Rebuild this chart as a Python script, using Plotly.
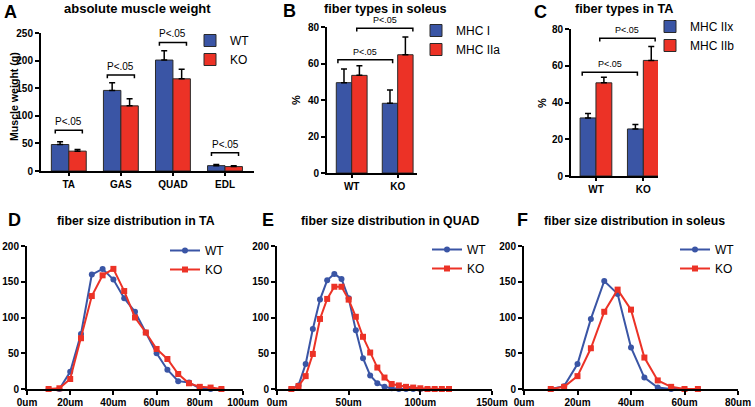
import plotly.graph_objects as go

W, H = 755, 407
BLUE = "#3a55a5"
RED = "#ec3226"
FONT = "Liberation Sans, Arial, sans-serif"

# A: absolute muscle weight (g)
muscles = ["TA", "GAS", "QUAD", "EDL"]
weight_wt = [48, 146, 201, 9.7]
weight_wt_err = [5, 14, 17, 2]
weight_ko = [36, 118, 167, 8]
weight_ko_err = [3, 13, 17.5, 1.7]
weight_bracket_y = [74, 174, 233, 33]

# B: fiber types in soleus (%)
genotypes = ["WT", "KO"]
sol_mhc1 = [49.5, 38.2]
sol_mhc1_err = [7.5, 7.3]
sol_mhc2a = [53.5, 64.8]
sol_mhc2a_err = [5.3, 9.7]
sol_brackets = [(-0.30, 0.89, 62), (0.11, 1.33, 79.3)]

# C: fiber types in TA (%)
ta_mhc2x = [31.6, 25.6]
ta_mhc2x_err = [2.4, 2.4]
ta_mhc2b = [50.7, 62.9]
ta_mhc2b_err = [3.1, 7.6]
ta_brackets = [(-0.29, 0.875, 56.4), (0.08, 1.25, 75)]

# D: fiber size distribution in TA
ta_size = [10, 15, 20, 25, 30, 35, 40, 45, 50, 55, 60, 65, 70, 75, 80, 85, 90]
ta_wt = [0, 0, 24, 77, 160, 168, 153, 127, 108, 79, 50, 27, 11, 9, 1, 0, 0]
ta_ko = [0, 1, 14, 71, 130, 159, 168, 137, 100, 79, 56, 42, 21, 8, 3, 2, 0]

# E: fiber size distribution in QUAD
quad_size = [10, 15, 20, 25, 30, 35, 40, 45, 50, 55, 60, 65, 70, 75, 80, 85,
             90, 95, 100, 105, 110, 115, 120]
quad_wt = [0, 5, 35, 84, 125, 152, 161, 154, 127, 82, 43, 19, 8, 3, 1, 0,
           0, 0, 0, 0, 0, 0, 0]
quad_ko = [0, 4, 18, 49, 98, 126, 143, 143, 125, 101, 73, 51, 30, 16, 7, 5,
           3, 2, 1, 0, 0, 0, 0]

# F: fiber size distribution in soleus
sol_size = [10, 15, 20, 25, 30, 35, 40, 45, 50, 55, 60, 65]
sol_wt = [0, 4, 35, 98, 151, 133, 58, 16, 2, 0, 0, 0]
sol_ko = [0, 3, 18, 57, 108, 139, 111, 44, 12, 3, 0, 0]


def px_x(p):
    return p / W


def px_y(p):
    return 1 - p / H


fig = go.Figure()


def add_bar(name, x, y, err, color, ax, legend):
    fig.add_trace(go.Bar(
        name=name, x=x, y=y,
        marker=dict(color=color, line=dict(color="#2a2a2a", width=1)),
        error_y=dict(type="data", array=err, arrayminus=[0] * len(err),
                     symmetric=False, color="black", thickness=1.5, width=3),
        xaxis="x" + ax, yaxis="y" + ax, legend=legend,
    ))


def add_line(name, x, y, color, symbol, ax, legend):
    fig.add_trace(go.Scatter(
        name=name, x=x, y=y, mode="lines+markers", cliponaxis=False,
        line=dict(color=color, width=2),
        marker=dict(color=color, symbol=symbol, size=6),
        xaxis="x" + ax, yaxis="y" + ax, legend=legend,
    ))


cat_a = list(range(len(muscles)))
cat_g = list(range(len(genotypes)))
add_bar("WT", cat_a, weight_wt, weight_wt_err, BLUE, "", "legend")
add_bar("KO", cat_a, weight_ko, weight_ko_err, RED, "", "legend")
add_bar("MHC I", cat_g, sol_mhc1, sol_mhc1_err, BLUE, "2", "legend2")
add_bar("MHC IIa", cat_g, sol_mhc2a, sol_mhc2a_err, RED, "2", "legend2")
add_bar("MHC IIx", cat_g, ta_mhc2x, ta_mhc2x_err, BLUE, "3", "legend3")
add_bar("MHC IIb", cat_g, ta_mhc2b, ta_mhc2b_err, RED, "3", "legend3")

add_line("WT", ta_size, ta_wt, BLUE, "circle", "4", "legend4")
add_line("KO", ta_size, ta_ko, RED, "square", "4", "legend4")
add_line("WT", quad_size, quad_wt, BLUE, "circle", "5", "legend5")
add_line("KO", quad_size, quad_ko, RED, "square", "5", "legend5")
add_line("WT", sol_size, sol_wt, BLUE, "circle", "6", "legend6")
add_line("KO", sol_size, sol_ko, RED, "square", "6", "legend6")

tickfont = dict(family=FONT, size=10, color="black", weight="bold")
axis_common = dict(showline=True, linecolor="black", linewidth=2, ticks="outside",
                   ticklen=4, tickwidth=1.5, tickcolor="black", showgrid=False,
                   zeroline=False, tickfont=tickfont, fixedrange=True)

# panel boxes in pixels: (left, right, top, bottom)
boxes = {
    "": (41, 254, 33, 171),
    "2": (327, 417, 27, 173),
    "3": (571, 658, 29, 176),
    "4": (27, 243, 246, 389),
    "5": (277, 492, 246, 389),
    "6": (524, 738, 246, 389),
}
xranges = {"": [-0.534, 3.557], "2": [-0.537, 1.42], "3": [-0.527, 1.31],
           "4": [0, 100], "5": [0, 150], "6": [0, 80]}
yranges = {"": [0, 250], "2": [0, 80], "3": [0, 80],
           "4": [0, 200], "5": [0, 200], "6": [0, 200]}
ydticks = {"": 50, "2": 20, "3": 20, "4": 50, "5": 50, "6": 50}
xdticks = {"4": 20, "5": 50, "6": 20}

layout_axes = {}
for ax, (l, r, t, b) in boxes.items():
    xa = dict(axis_common, domain=[px_x(l), px_x(r)], range=xranges[ax],
              anchor="y" + ax)
    if ax in ("", "2", "3"):
        labels = muscles if ax == "" else genotypes
        xa.update(tickvals=list(range(len(labels))), ticktext=labels, ticklen=3)
    else:
        xa.update(dtick=xdticks[ax], tick0=0, ticksuffix="um",
                  ticklabelstandoff=-1)
    ya = dict(axis_common, domain=[px_y(b), px_y(t)], range=yranges[ax],
              dtick=ydticks[ax], anchor="x" + ax)
    layout_axes["xaxis" + ax] = xa
    layout_axes["yaxis" + ax] = ya

# significance brackets
shapes = []
annotations = []


def bracket(ax, x0, x1, y, depth, size):
    shapes.append(dict(
        type="path", xref="x" + ax, yref="y" + ax,
        path=f"M {x0},{y - depth} L {x0},{y} L {x1},{y} L {x1},{y - depth}",
        line=dict(color="black", width=1.5),
    ))
    annotations.append(dict(
        x=(x0 + x1) / 2, y=y, xref="x" + ax, yref="y" + ax, text="P<.05",
        showarrow=False, yanchor="bottom", yshift=1,
        font=dict(family=FONT, size=size, color="black"),
    ))


for i, yb in enumerate(weight_bracket_y):
    bracket("", i - 0.26, i + 0.26, yb, 6, 10)
for x0, x1, yb in sol_brackets:
    bracket("2", x0, x1, yb, 1.8, 9)
for x0, x1, yb in ta_brackets:
    bracket("3", x0, x1, yb, 1.8, 9)


def text(x, y, s, size, bold=True, angle=0):
    annotations.append(dict(
        x=px_x(x), y=px_y(y), xref="paper", yref="paper", text=s,
        showarrow=False, xanchor="center", yanchor="middle", textangle=angle,
        font=dict(family=FONT, size=size, color="black",
                  weight="bold" if bold else "normal"),
    ))


# panel letters and titles
text(10, 12, "A", 18)
text(137, 8, "absolute muscle weight", 13)
text(289, 11, "B", 18)
text(385, 9, "fiber types in soleus", 12.7)
text(540, 12, "C", 18)
text(624, 9, "fiber types in TA", 12.7)
text(14, 220, "D", 18)
text(136, 221, "fiber size distribution in TA", 12.3)
text(268, 220, "E", 18)
text(390, 221, "fiber size distribution in QUAD", 12.3)
text(522, 220, "F", 18)
text(634, 221, "fiber size distribution in soleus", 12.3)

# y-axis titles
text(14, 97, "Muscle weight (g)", 10.6, angle=-90)
text(296, 100, "%", 11, angle=-90)
text(542, 103, "%", 11, angle=-90)

legend_font = dict(family=FONT, size=12, color="black")


def legend_at(text_x, center_y):
    return dict(x=px_x(text_x - 40), y=px_y(center_y), xanchor="left",
                yanchor="middle", bgcolor="rgba(0,0,0,0)", font=legend_font,
                borderwidth=0)


fig.update_layout(
    width=W, height=H,
    margin=dict(l=0, r=0, t=0, b=0, autoexpand=False),
    paper_bgcolor="white", plot_bgcolor="white",
    barmode="group", bargap=0.33, bargroupgap=0,
    showlegend=True,
    legend=legend_at(230, 50),
    legend2=legend_at(456, 40),
    legend3=legend_at(690, 36),
    legend4=legend_at(205, 260),
    legend5=legend_at(467, 259),
    legend6=legend_at(715, 259),
    shapes=shapes,
    annotations=annotations,
    font=dict(family=FONT, color="black"),
    **layout_axes,
)

# the page's default body margin would shift the 755x407 figure out of view
fig.write_html("out.html", config={"displayModeBar": False},
               post_script="document.body.style.margin = '0';")
